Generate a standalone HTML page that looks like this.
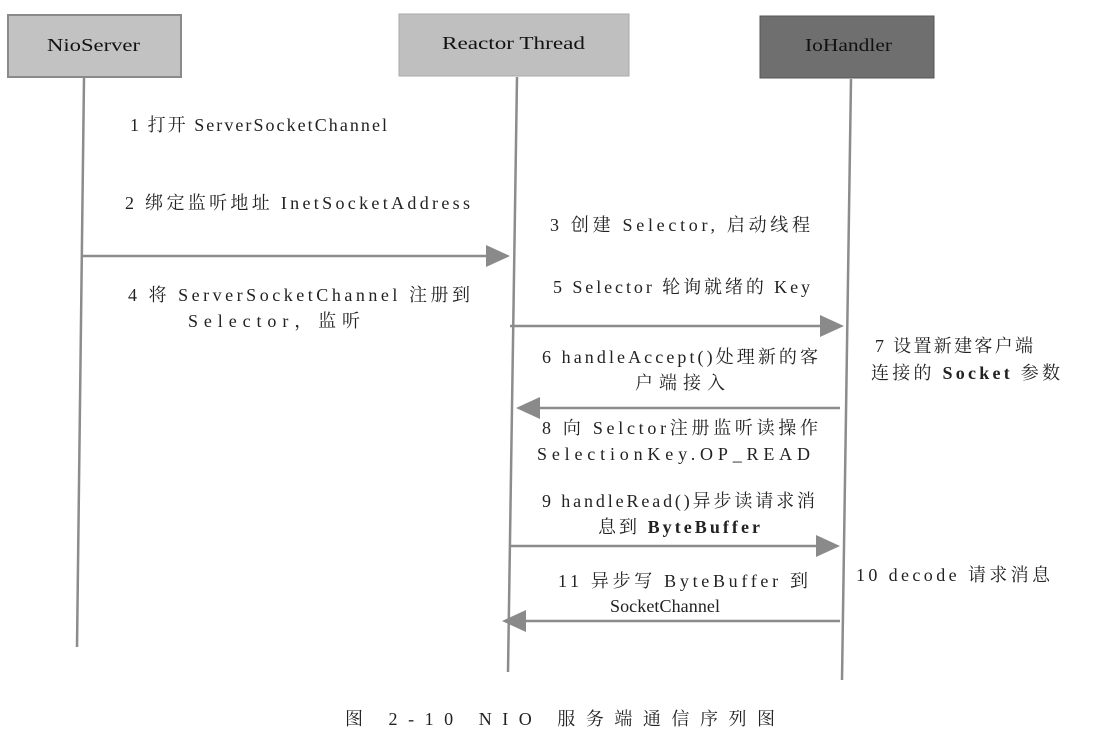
<!DOCTYPE html>
<html><head><meta charset="utf-8"><style>
html,body{margin:0;padding:0;background:#fff;}
svg{display:block;}
text{font-family:"Liberation Serif","Noto Serif CJK SC",serif;font-size:18px;fill:#222;}
.h{font-size:18px;fill:#111;}
</style></head><body>
<svg width="1119" height="734" viewBox="0 0 1119 734" xmlns="http://www.w3.org/2000/svg">
<rect x="8" y="15" width="173" height="62" fill="#c2c2c2" stroke="#8a8a8a" stroke-width="2"/>
<rect x="399" y="14" width="230" height="62" fill="#bfbfbf" stroke="#aaa" stroke-width="1"/>
<rect x="760" y="16" width="174" height="62" fill="#6f6f6f" stroke="#555" stroke-width="1"/>
<text class="h" x="47" y="51" textLength="93" lengthAdjust="spacingAndGlyphs">NioServer</text>
<text class="h" x="442" y="49" textLength="143" lengthAdjust="spacingAndGlyphs">Reactor Thread</text>
<text class="h" x="805" y="51" textLength="87" lengthAdjust="spacingAndGlyphs">IoHandler</text>
<g stroke="#8c8c8c" stroke-width="2.5" fill="none">
<line x1="84" y1="78" x2="77" y2="647"/>
<line x1="517" y1="77" x2="508" y2="672"/>
<line x1="851" y1="79" x2="842" y2="680"/>
<line x1="82" y1="256" x2="492" y2="256"/>
<line x1="510" y1="326" x2="822" y2="326"/>
<line x1="840" y1="408" x2="538" y2="408"/>
<line x1="510" y1="546" x2="818" y2="546"/>
<line x1="840" y1="621" x2="525" y2="621"/>
</g>
<g fill="#8a8a8a">
<polygon points="486,245 510,256 486,267"/>
<polygon points="820,315 844,326 820,337"/>
<polygon points="540,397 516,408 540,419"/>
<polygon points="816,535 840,546 816,557"/>
<polygon points="526,610 502,621 526,632"/>
</g>
<text x="130" y="131" textLength="257" lengthAdjust="spacing">1  打开  ServerSocketChannel</text>
<text x="125" y="209" textLength="345" lengthAdjust="spacing">2  绑定监听地址 InetSocketAddress</text>
<text x="550" y="231" textLength="260" lengthAdjust="spacing">3  创建 Selector, 启动线程</text>
<text x="128" y="301" textLength="342" lengthAdjust="spacing">4  将  ServerSocketChannel  注册到</text>
<text x="188" y="327" textLength="172" lengthAdjust="spacing">Selector，监听</text>
<text x="553" y="293" textLength="257" lengthAdjust="spacing">5 Selector 轮询就绪的 Key</text>
<text x="542" y="363" textLength="276" lengthAdjust="spacing">6 handleAccept()处理新的客</text>
<text x="635" y="389" textLength="90" lengthAdjust="spacing">户端接入</text>
<text x="875" y="352" textLength="158" lengthAdjust="spacing">7  设置新建客户端</text>
<text x="871" y="379" textLength="189" lengthAdjust="spacing">连接的 <tspan font-weight="bold">Socket</tspan> 参数</text>
<text x="542" y="434" textLength="276" lengthAdjust="spacing">8  向 Selctor注册监听读操作</text>
<text x="537" y="460" textLength="273" lengthAdjust="spacing">SelectionKey.OP_READ</text>
<text x="542" y="507" textLength="273" lengthAdjust="spacing">9 handleRead()异步读请求消</text>
<text x="598" y="533" textLength="162" lengthAdjust="spacing">息到 <tspan font-weight="bold">ByteBuffer</tspan></text>
<text x="856" y="581" textLength="194" lengthAdjust="spacing">10 decode  请求消息</text>
<text x="558" y="587" textLength="250" lengthAdjust="spacing">11  异步写 ByteBuffer 到</text>
<text x="610" y="612" textLength="110" lengthAdjust="spacing">SocketChannel</text>
<text x="345" y="725" textLength="430" lengthAdjust="spacing">图 2-10    NIO 服务端通信序列图</text>
</svg>
</body></html>
